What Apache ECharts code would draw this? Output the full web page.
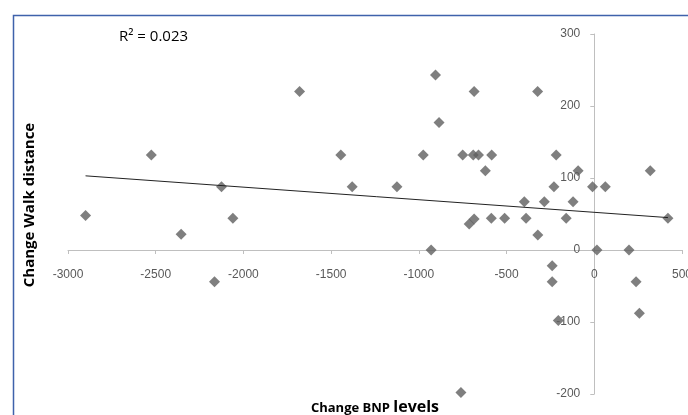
<!DOCTYPE html>
<html>
<head>
<meta charset="utf-8">
<script src="https://cdn.jsdelivr.net/npm/echarts@6/dist/echarts.min.js"></script>
<style>
html,body{margin:0;padding:0;background:#fff;}
#chart{width:688px;height:415px;}
</style>
</head>
<body>
<div id="chart"></div>
<script>
// Change in BNP levels (x) and change in walk distance (y)
var bnpChange = [-2900,-2525,-2355,-2165,-2125,-2060,-1680,-1445,-1380,-1125,-975,-930,-905,-885,-760,-750,-713,-685,-685,-690,-660,-621,-585,-587,-511,-399,-389,-323,-322,-285,-240,-240,-230,-217,-205,-160,-121,-92,-10,15,63,198,238,257,319,420];
var walkChange = [48,132,22,-44,88,44,220,132,88,88,132,0,243,177,-198,132,36,43,220,132,132,110,132,44,44,67,44,220,21,67,-22,-44,88,132,-98,44,67,110,88,0,88,0,-44,-88,110,44];
// Trendline endpoints
var trendX = [-2900, 420];
var trendY = [103, 45];
var xTicks = {min: -3000, max: 500, interval: 500};
var yTicks = {min: -200, max: 300, interval: 100};
var rSquaredLabel = 'R\u00B2 = 0.023';
var yTitle = 'Change Walk distance';
var xTitleA = 'Change BNP';
var xTitleB = 'levels';

var points = bnpChange.map(function(x, i){ return [x, walkChange[i]]; });
var trend = trendX.map(function(x, i){ return [x, trendY[i]]; });

var gridBox = {left:68, right:6, top:34, bottom:21};
var chart = echarts.init(document.getElementById('chart'), null, {renderer:'canvas'});
var labelStyle = {color:'#595959', fontFamily:'Liberation Sans, Arial, sans-serif', fontSize:12,
  formatter:function(v){ return String(v); }};
chart.setOption({
  animation:false,
  backgroundColor:'#ffffff',
  grid:{left:gridBox.left, right:gridBox.right, top:gridBox.top, bottom:gridBox.bottom, containLabel:false, outerBoundsMode:'none'},
  xAxis:{
    type:'value', min:xTicks.min, max:xTicks.max, interval:xTicks.interval, position:'bottom',
    axisLine:{onZero:false, lineStyle:{color:'#bfbfbf', width:1}},
    axisTick:{show:true, length:4, lineStyle:{color:'#bfbfbf'}},
    axisLabel:Object.assign({margin:19}, labelStyle),
    splitLine:{show:false}
  },
  yAxis:{
    type:'value', min:yTicks.min, max:yTicks.max, interval:yTicks.interval, position:'left',
    axisLine:{show:true, onZero:false, lineStyle:{color:'#bfbfbf', width:1}},
    axisTick:{show:true, length:4, lineStyle:{color:'#bfbfbf'}},
    axisLabel:Object.assign({margin:14}, labelStyle),
    splitLine:{show:false}
  },
  series:[
    {
      type:'scatter', data:points, symbol:'diamond', symbolSize:11,
      itemStyle:{color:'#5f5f5f'}, z:3
    },
    {
      type:'line', data:trend, showSymbol:false, symbol:'none',
      lineStyle:{color:'#222222', width:1}, z:4, silent:true
    }
  ],
  graphic:[
    {type:'rect', shape:{x:13.5, y:15.5, width:700, height:420}, style:{fill:null, stroke:'#3f62ab', lineWidth:1.5}, z:-1},
    {type:'text', left:119, top:29, style:{text:rSquaredLabel, font:'15px "Open Sans", sans-serif', fill:'#000'}},
    {type:'text', x:30, y:205, rotation:Math.PI/2, style:{text:yTitle, font:'bold 15px "Open Sans", sans-serif', fill:'#000', align:'center', verticalAlign:'middle'}},
    {type:'text', x:375, y:407, style:{
      text:'{a|'+xTitleA+'} {b|'+xTitleB+'}', align:'center', verticalAlign:'middle',
      rich:{a:{font:'bold 13px "Open Sans", sans-serif', fill:'#000', verticalAlign:'bottom'}, b:{font:'bold 16px "Open Sans", sans-serif', fill:'#000', verticalAlign:'bottom'}}
    }}
  ]
});
// Move the axes so they cross at the origin, using the library's own scales
var origin = chart.convertToPixel({gridIndex:0}, [0, 0]);
var bottomEdge = 415 - gridBox.bottom;
chart.setOption({
  xAxis:{offset: -(bottomEdge - origin[1])},
  yAxis:{offset: -(origin[0] - gridBox.left)}
});
</script>
</body>
</html>
